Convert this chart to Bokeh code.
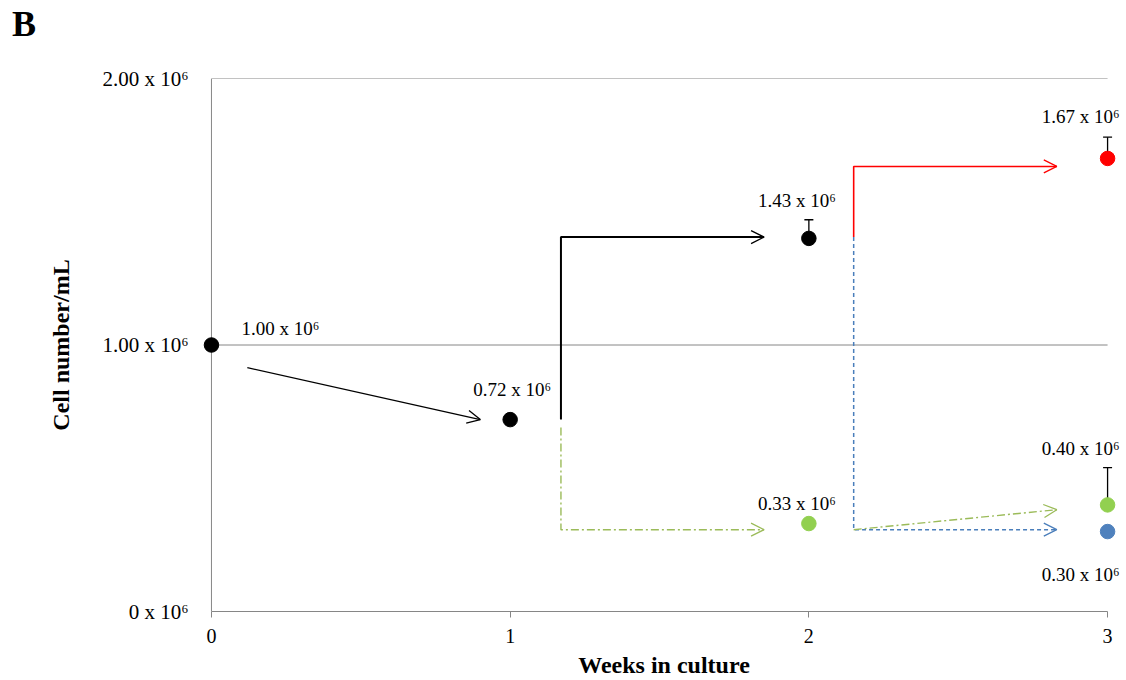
from bokeh.plotting import figure
from bokeh.layouts import column
from bokeh.models import (Range1d, FixedTicker, ColumnDataSource, Whisker, TeeHead,
                          Arrow, OpenHead, Label, Div)
from bokeh.embed import file_html
from bokeh.resources import INLINE

# ---------------- data ----------------
weeks = [0, 1, 2, 2, 3, 3, 3]
cells = [1.00, 0.72, 1.40, 0.33, 1.70, 0.40, 0.30]          # x 10^6 cells/mL
point_colors = ["#000000", "#000000", "#000000", "#92D050", "#FF0000", "#92D050", "#4F81BD"]

err_weeks = [2, 3, 3]
err_base = [1.40, 1.70, 0.40]
err_top = [1.47, 1.78, 0.54]

label_texts = ["1.00 x 10⁶", "0.72 x 10⁶", "1.43 x 10⁶", "0.33 x 10⁶",
               "1.67 x 10⁶", "0.40 x 10⁶", "0.30 x 10⁶"]

x_ticks = [0, 1, 2, 3]
y_ticks = [0, 1, 2]
y_tick_labels = ["0 x 10⁶", "1.00 x 10⁶", "2.00 x 10⁶"]
grid_values = [1, 2]

# flow arrows (data units)
decline_x = [0.12, 0.90]
decline_y = [0.915, 0.72]
black_x = [1.17, 1.17, 1.85]
black_y = [0.72, 1.405, 1.405]
green1_x = [1.17, 1.17, 1.85]
green1_y = [0.69, 0.307, 0.307]
red_x = [2.15, 2.15, 2.83]
red_y = [1.405, 1.67, 1.67]
blue_x = [2.15, 2.15, 2.83]
blue_y = [1.405, 0.307, 0.307]
green2_x = [2.15, 2.83]
green2_y = [0.307, 0.382]

# ---------------- style ----------------
FONT = "Liberation Serif"
GRAY = "#868686"
LINE_GREEN = "#9BBB59"
LINE_BLUE = "#4A7EBB"
label_x_off = [30, 2, -12, -12, -27, -27, -27]
label_y_off = [17, 30, 38, 20, 42, 56, -43]
label_align = ["left", "center", "center", "center", "center", "center", "center"]

HEADER_H = 46

header = Div(text="B", width=1126, height=HEADER_H, margin=0,
             styles={"font-family": FONT, "font-size": "36px", "font-weight": "bold",
                     "color": "black", "padding-left": "12px", "padding-top": "3px",
                     "line-height": "normal"})

p = figure(width=1126, height=680 - HEADER_H, output_backend="svg", toolbar_location=None,
           x_range=Range1d(-0.03, 3.06), y_range=Range1d(0, 2),
           min_border_left=202, min_border_right=1, min_border_top=78 - HEADER_H,
           min_border_bottom=68, margin=0)
p.outline_line_color = None
p.xgrid.visible = False
p.ygrid.visible = False
p.background_fill_color = "white"

# gridlines (stop at week 3) and the y axis line at week 0
p.segment(x0=[0] * len(grid_values), y0=grid_values, x1=[3] * len(grid_values), y1=grid_values,
          line_color=GRAY, line_width=1)
p.segment(x0=[0], y0=[0], x1=[0], y1=[2], line_color=GRAY, line_width=1)

# axes
p.xaxis.ticker = FixedTicker(ticks=x_ticks)
p.xaxis.bounds = (0, 3)
p.xaxis.axis_line_color = GRAY
p.xaxis.major_tick_line_color = GRAY
p.xaxis.major_tick_in = 0
p.xaxis.major_tick_out = 6
p.xaxis.minor_tick_line_color = None
p.xaxis.major_label_standoff = 11
p.xaxis.major_label_text_font = FONT
p.xaxis.major_label_text_font_size = "20px"
p.xaxis.major_label_text_color = "black"
p.xaxis.axis_label = "Weeks in culture"
p.xaxis.axis_label_text_font = FONT
p.xaxis.axis_label_text_font_size = "24px"
p.xaxis.axis_label_text_font_style = "bold"
p.xaxis.axis_label_text_color = "black"
p.xaxis.axis_label_standoff = 6

p.yaxis.ticker = FixedTicker(ticks=y_ticks)
p.yaxis.major_label_overrides = {t: s for t, s in zip(y_ticks, y_tick_labels)}
p.yaxis.axis_line_color = None
p.yaxis.major_tick_line_color = None
p.yaxis.major_tick_in = 0
p.yaxis.major_tick_out = 0
p.yaxis.minor_tick_line_color = None
p.yaxis.major_label_standoff = 14
p.yaxis.major_label_text_font = FONT
p.yaxis.major_label_text_font_size = "21px"
p.yaxis.major_label_text_color = "black"
p.yaxis.axis_label = "Cell number/mL"
p.yaxis.axis_label_text_font = FONT
p.yaxis.axis_label_text_font_size = "24px"
p.yaxis.axis_label_text_font_style = "bold"
p.yaxis.axis_label_text_color = "black"
p.yaxis.axis_label_standoff = 25

# flow lines
p.line(decline_x, decline_y, line_color="black", line_width=1.3)
p.line(black_x, black_y, line_color="black", line_width=2)
p.line(green1_x, green1_y, line_color=LINE_GREEN, line_width=1.4, line_dash="8 3 2 3")
p.line(red_x, red_y, line_color="#FF0000", line_width=1.6)
p.line(blue_x, blue_y, line_color=LINE_BLUE, line_width=1.5, line_dash="4 3")
p.line(green2_x, green2_y, line_color=LINE_GREEN, line_width=1.4, line_dash="8 3 2 3")

for xs, ys, col in [(decline_x, decline_y, "black"), (black_x, black_y, "black"),
                    (green1_x, green1_y, LINE_GREEN), (red_x, red_y, "#FF0000"),
                    (blue_x, blue_y, LINE_BLUE), (green2_x, green2_y, LINE_GREEN)]:
    p.add_layout(Arrow(end=OpenHead(size=13, line_color=col, line_width=1.3),
                       x_start=xs[-2], y_start=ys[-2], x_end=xs[-1], y_end=ys[-1],
                       line_alpha=0))

# error bars
err_src = ColumnDataSource(dict(x=err_weeks, lower=err_base, upper=err_top))
p.add_layout(Whisker(source=err_src, base="x", lower="lower", upper="upper",
                     line_color="black", line_width=1.3,
                     upper_head=TeeHead(size=9, line_color="black", line_width=1.3),
                     lower_head=None))

# points
pt_src = ColumnDataSource(dict(x=weeks, y=cells, c=point_colors))
p.scatter("x", "y", source=pt_src, size=14.5, fill_color="c", line_color="c")

# value labels
for x, y, t, xo, yo, al in zip(weeks, cells, label_texts, label_x_off, label_y_off, label_align):
    p.add_layout(Label(x=x, y=y, text=t, x_offset=xo, y_offset=yo, text_align=al,
                       text_baseline="middle", text_font=FONT, text_font_size="19px",
                       text_color="black"))

layout = column(header, p, spacing=0, margin=0)
open("out.html", "w").write(file_html(layout, INLINE))
